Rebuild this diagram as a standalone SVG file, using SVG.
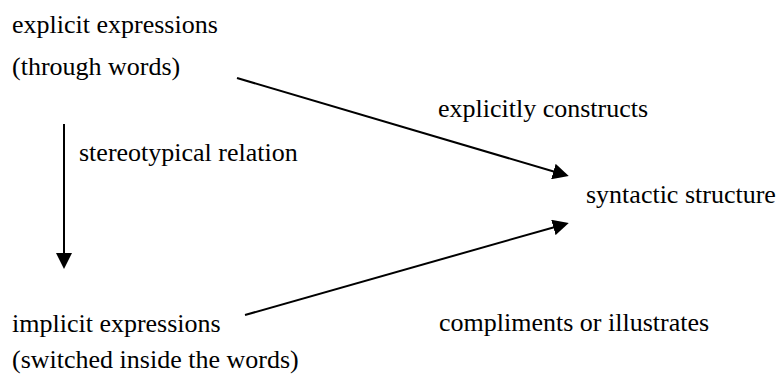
<svg xmlns="http://www.w3.org/2000/svg" width="782" height="378" viewBox="0 0 782 378">
<style>
text{font-family:'Liberation Serif',Tinos,'Times New Roman','DejaVu Serif',serif;font-size:26px;fill:#000}
.edge{stroke:#000;stroke-width:2;fill:none}
</style>
<defs>
<marker id="ah" markerUnits="userSpaceOnUse" markerWidth="16" markerHeight="16" refX="10" refY="8" orient="auto" viewBox="0 0 16 16">
<path d="M0,0 L16,8 L0,16 z" fill="#000"/>
</marker>
</defs>
<rect width="782" height="378" fill="#fff"/>
<g id="explicit">
<text x="12" y="33">explicit expressions</text>
<text x="12" y="75">(through words)</text>
</g>
<g id="implicit">
<text x="12" y="332">implicit expressions</text>
<text x="12" y="368">(switched inside the words)</text>
</g>
<g id="syntactic">
<text x="586" y="203">syntactic structure</text>
</g>
<g id="connectors">
<line class="edge" x1="64" y1="124" x2="64" y2="263" marker-end="url(#ah)"/>
<line class="edge" x1="237" y1="78" x2="563" y2="174.3" marker-end="url(#ah)"/>
<line class="edge" x1="245" y1="315" x2="563" y2="224.7" marker-end="url(#ah)"/>
<text x="79" y="161">stereotypical relation</text>
<text x="438" y="117">explicitly constructs</text>
<text x="439" y="331">compliments or illustrates</text>
</g>
</svg>
